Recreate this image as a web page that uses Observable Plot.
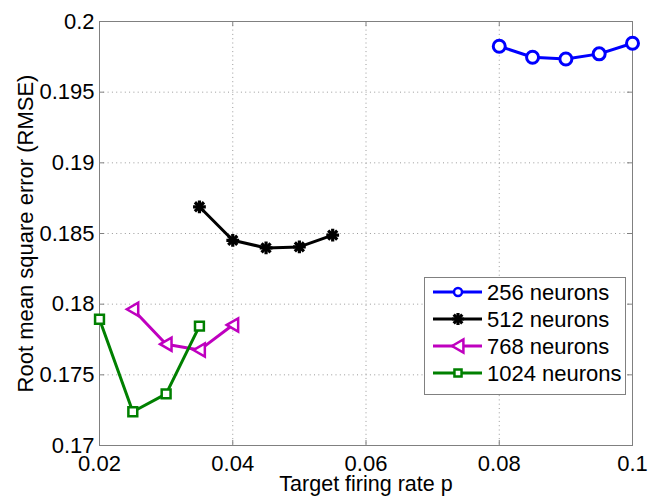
<!DOCTYPE html>
<html>
<head>
<meta charset="utf-8">
<script src="https://cdn.jsdelivr.net/npm/d3@7"></script>
<script src="https://cdn.jsdelivr.net/npm/@observablehq/plot@0.6"></script>
<style>
  html, body { margin: 0; padding: 0; background: #fff; }
  #chart svg { display: block; }
</style>
</head>
<body>
<div id="chart"></div>
<script>
// ---- Data ----
const xTicks = [0.02, 0.04, 0.06, 0.08, 0.1];
const xTickLabels = ["0.02", "0.04", "0.06", "0.08", "0.1"];
const yTicks = [0.17, 0.175, 0.18, 0.185, 0.19, 0.195, 0.2];
const yTickLabels = ["0.17", "0.175", "0.18", "0.185", "0.19", "0.195", "0.2"];

const seriesNames = ["256 neurons", "512 neurons", "768 neurons", "1024 neurons"];
const seriesColors = ["#0000ff", "#000000", "#bf00bf", "#008000"];

const p256 = [0.08, 0.085, 0.09, 0.095, 0.1];
const rmse256 = [0.19825, 0.19747, 0.19735, 0.19771, 0.19846];
const p512 = [0.035, 0.04, 0.045, 0.05, 0.055];
const rmse512 = [0.18689, 0.18452, 0.18398, 0.18405, 0.18488];
const p768 = [0.025, 0.03, 0.035, 0.04];
const rmse768 = [0.17964, 0.17717, 0.17675, 0.17853];
const p1024 = [0.02, 0.025, 0.03, 0.035];
const rmse1024 = [0.17893, 0.17239, 0.17365, 0.17845];

const toRows = (xs, ys, s) => xs.map((x, i) => ({x, y: ys[i], s}));
const rows256 = toRows(p256, rmse256, seriesNames[0]);
const rows512 = toRows(p512, rmse512, seriesNames[1]);
const rows768 = toRows(p768, rmse768, seriesNames[2]);
const rows1024 = toRows(p1024, rmse1024, seriesNames[3]);

// left-pointing triangle symbol
const triangleLeft = {
  draw(ctx, size) {
    const r = Math.sqrt(size / Math.PI);
    ctx.moveTo(-r * 1.0, 0);
    ctx.lineTo(r * 0.9, -r * 1.1);
    ctx.lineTo(r * 0.9, r * 1.1);
    ctx.closePath();
  }
};

const W = 663, H = 497;
const mL = 99, mR = 31, mT = 21, mB = 52;
const plotW = W - mL - mR, plotH = H - mT - mB;
const FONT = "'Liberation Sans', Arial, Helvetica, sans-serif";
const FS = 22;
const gridStyle = {stroke: "#9a9a9a", strokeOpacity: 1, strokeWidth: 1, strokeDasharray: "1,3.3"};

const chart = Plot.plot({
  width: W,
  height: H,
  marginLeft: mL,
  marginRight: mR,
  marginTop: mT,
  marginBottom: mB,
  style: {fontFamily: FONT, fontSize: FS + "px", color: "#000", background: "#fff", overflow: "visible"},
  x: {domain: [0.02, 0.1], axis: null},
  y: {domain: [0.17, 0.2], axis: null},
  marks: [
    Plot.gridX(xTicks.slice(1, -1), gridStyle),
    Plot.gridY(yTicks.slice(1, -1), gridStyle),
    Plot.frame({stroke: "#808080", strokeWidth: 1}),
    // inward ticks on all four sides
    Plot.tickX(xTicks, {x: d => d, stroke: "#808080", insetTop: plotH - 5}),
    Plot.tickX(xTicks, {x: d => d, stroke: "#808080", insetBottom: plotH - 5}),
    Plot.tickY(yTicks, {y: d => d, stroke: "#808080", insetRight: plotW - 5}),
    Plot.tickY(yTicks, {y: d => d, stroke: "#808080", insetLeft: plotW - 5}),
    // tick labels
    Plot.text(xTicks, {x: d => d, frameAnchor: "bottom", dy: 9.5, lineAnchor: "top", textAnchor: "middle",
      text: (d, i) => xTickLabels[i], fontSize: FS, fill: "#000"}),
    Plot.text(yTicks, {y: d => d, frameAnchor: "left", dx: -5, lineAnchor: "middle", textAnchor: "end",
      text: (d, i) => yTickLabels[i], fontSize: FS, fill: "#000"}),
    // axis titles
    Plot.text(["Target firing rate p"], {frameAnchor: "bottom", dy: 39, lineAnchor: "middle", textAnchor: "middle", fontSize: 21.5, fill: "#000"}),
    Plot.text(["Root mean square error (RMSE)"], {frameAnchor: "left", dx: -74, rotate: -90, lineAnchor: "middle", textAnchor: "middle", fontSize: FS, fill: "#000"}),
    // series lines
    Plot.line(rows256, {x: "x", y: "y", stroke: seriesColors[0], strokeWidth: 3}),
    Plot.line(rows512, {x: "x", y: "y", stroke: seriesColors[1], strokeWidth: 3}),
    Plot.line(rows768, {x: "x", y: "y", stroke: seriesColors[2], strokeWidth: 3}),
    Plot.line(rows1024, {x: "x", y: "y", stroke: seriesColors[3], strokeWidth: 3}),
    // markers
    Plot.dot(rows256, {x: "x", y: "y", r: 6, symbol: "circle", stroke: seriesColors[0], strokeWidth: 3, fill: "#fff"}),
    Plot.dot(rows512, {x: "x", y: "y", r: 4.2, symbol: "plus", stroke: seriesColors[1], strokeWidth: 3.2}),
    Plot.dot(rows512, {x: "x", y: "y", r: 4.2, symbol: "times", stroke: seriesColors[1], strokeWidth: 3.2}),
    Plot.dot(rows768, {x: "x", y: "y", r: 6, symbol: triangleLeft, stroke: seriesColors[2], strokeWidth: 2.5, fill: "#fff"}),
    Plot.dot(rows1024, {x: "x", y: "y", r: 5, symbol: "square", stroke: seriesColors[3], strokeWidth: 2.5, fill: "#fff"})
  ]
});

document.getElementById("chart").appendChild(chart);

// ---- Legend (drawn into the same SVG) ----
const svg = d3.select(chart);
const lg = svg.append("g").attr("font-family", FONT).attr("font-size", FS).attr("text-anchor", "start");
const lx = 424, ly = 277, lw = 201, lh = 117;
lg.append("rect").attr("x", lx + 0.5).attr("y", ly + 0.5).attr("width", lw).attr("height", lh)
  .attr("fill", "#fff").attr("stroke", "#808080").attr("stroke-width", 1);
const legendSymbols = [
  {type: d3.symbolCircle, size: Math.PI * 16, fill: "#fff", sw: 2.5},
  null,
  {type: triangleLeft, size: Math.PI * 36, fill: "#fff", sw: 2.5},
  {type: d3.symbolSquare, size: Math.PI * 16, fill: "#fff", sw: 2.5}
];
seriesNames.forEach((name, i) => {
  const cy = ly + 15 + i * 27;
  const c = seriesColors[i];
  lg.append("line").attr("x1", lx + 9).attr("x2", lx + 58).attr("y1", cy).attr("y2", cy)
    .attr("stroke", c).attr("stroke-width", 3);
  const mx = lx + 34;
  if (i === 1) {
    lg.append("path").attr("d", d3.symbol(d3.symbolPlus, Math.PI * 16)())
      .attr("transform", `translate(${mx},${cy})`).attr("fill", "none").attr("stroke", c).attr("stroke-width", 3.2);
    lg.append("path").attr("d", d3.symbol(d3.symbolTimes, Math.PI * 16)())
      .attr("transform", `translate(${mx},${cy})`).attr("fill", "none").attr("stroke", c).attr("stroke-width", 3.2);
  } else {
    const s = legendSymbols[i];
    lg.append("path").attr("d", d3.symbol(s.type, s.size)())
      .attr("transform", `translate(${mx},${cy})`).attr("fill", s.fill).attr("stroke", c).attr("stroke-width", s.sw);
  }
  lg.append("text").attr("x", lx + 63).attr("y", cy).attr("dy", "0.36em").attr("fill", "#000")
    .attr("text-anchor", "start").text(name);
});
</script>
</body>
</html>
